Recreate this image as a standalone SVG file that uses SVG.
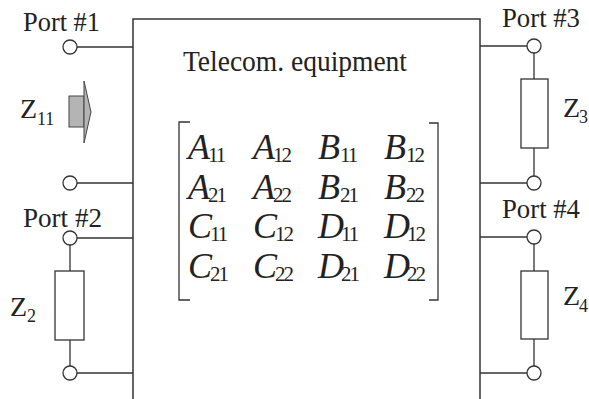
<svg xmlns="http://www.w3.org/2000/svg" width="589" height="399" viewBox="0 0 589 399">
<defs>
<style>
.ln{stroke:#333;stroke-width:1.3;fill:none}
.pt{fill:#fff;stroke:#333;stroke-width:1.3}
.rs{fill:#fff;stroke:#333;stroke-width:1.3}
.t{font-family:"Liberation Serif","Times New Roman",serif;fill:#222}
.lbl{font-size:28px}
.m{font-family:"Liberation Serif","Times New Roman",serif;font-style:italic;font-size:36px;fill:#222}
.s{font-family:"Liberation Serif","Times New Roman",serif;font-size:21px;fill:#222;letter-spacing:-2px}
.zs{font-size:18px}
</style>
</defs>
<rect width="589" height="399" fill="#fff"/>
<g id="equipment">
<path class="ln" d="M133,399 V19 H480 V399" style="stroke-width:1.5"/>
<text class="t" x="183" y="71" font-size="29" textLength="224" lengthAdjust="spacingAndGlyphs">Telecom. equipment</text>
</g>
<g id="matrix">
<path class="ln" d="M190,122 H179 V300 H190"/>
<path class="ln" d="M429,123 H438 V300 H429"/>
<text class="m" x="188" y="159">A</text><text class="s" x="208" y="162">11</text>
<text class="m" x="253" y="159">A</text><text class="s" x="273" y="162">12</text>
<text class="m" x="318" y="159">B</text><text class="s" x="340" y="162">11</text>
<text class="m" x="384" y="159">B</text><text class="s" x="406" y="162">12</text>
<text class="m" x="188" y="199">A</text><text class="s" x="208" y="202">21</text>
<text class="m" x="253" y="199">A</text><text class="s" x="273" y="202">22</text>
<text class="m" x="318" y="199">B</text><text class="s" x="340" y="202">21</text>
<text class="m" x="384" y="199">B</text><text class="s" x="406" y="202">22</text>
<text class="m" x="188" y="238">C</text><text class="s" x="210" y="241">11</text>
<text class="m" x="253" y="238">C</text><text class="s" x="275" y="241">12</text>
<text class="m" x="318" y="238">D</text><text class="s" x="341" y="241">11</text>
<text class="m" x="384" y="238">D</text><text class="s" x="407" y="241">12</text>
<text class="m" x="188" y="278">C</text><text class="s" x="210" y="281">21</text>
<text class="m" x="253" y="278">C</text><text class="s" x="275" y="281">22</text>
<text class="m" x="318" y="278">D</text><text class="s" x="341" y="281">21</text>
<text class="m" x="384" y="278">D</text><text class="s" x="407" y="281">22</text>
</g>
<g id="connectors">
<line class="ln" x1="77" y1="47" x2="133" y2="47"/>
<line class="ln" x1="77" y1="183" x2="133" y2="183"/>
<line class="ln" x1="77" y1="238" x2="133" y2="238"/>
<line class="ln" x1="77" y1="373" x2="133" y2="373"/>
<line class="ln" x1="70" y1="245" x2="70" y2="271"/>
<line class="ln" x1="70" y1="340" x2="70" y2="366"/>
<line class="ln" x1="480" y1="46" x2="527" y2="46"/>
<line class="ln" x1="480" y1="183" x2="527" y2="183"/>
<line class="ln" x1="534" y1="53" x2="534" y2="79"/>
<line class="ln" x1="534" y1="148" x2="534" y2="176"/>
<line class="ln" x1="480" y1="237" x2="527" y2="237"/>
<line class="ln" x1="480" y1="373" x2="527" y2="373"/>
<line class="ln" x1="534" y1="244" x2="534" y2="271"/>
<line class="ln" x1="534" y1="339" x2="534" y2="366"/>
</g>
<g id="port1">
<text class="t lbl" x="23" y="31" textLength="77" lengthAdjust="spacingAndGlyphs">Port #1</text>
<circle class="pt" cx="70" cy="47" r="7"/>
<circle class="pt" cx="70" cy="183" r="7"/>
<text class="t" x="20" y="118" font-size="28">Z</text><text class="t zs" x="37" y="125">11</text>
<rect x="69" y="96" width="15" height="31" fill="#b4b4b4" stroke="#444" stroke-width="1"/>
<polygon points="84,81 91,112 84,143" fill="#b4b4b4" stroke="#444" stroke-width="1"/>
</g>
<g id="port2">
<text class="t lbl" x="23" y="227" textLength="79" lengthAdjust="spacingAndGlyphs">Port #2</text>
<circle class="pt" cx="70" cy="238" r="7"/>
<circle class="pt" cx="70" cy="373" r="7"/>
<rect class="rs" x="55" y="271" width="29" height="69"/>
<text class="t" x="10" y="316" font-size="28">Z</text><text class="t zs" x="27" y="322">2</text>
</g>
<g id="port3">
<text class="t lbl" x="502" y="27" textLength="78" lengthAdjust="spacingAndGlyphs">Port #3</text>
<circle class="pt" cx="534" cy="46" r="7"/>
<circle class="pt" cx="534" cy="183" r="7"/>
<rect class="rs" x="521" y="79" width="27" height="69"/>
<text class="t" x="563" y="117" font-size="28">Z</text><text class="t zs" x="579" y="123">3</text>
</g>
<g id="port4">
<text class="t lbl" x="502" y="218" textLength="78" lengthAdjust="spacingAndGlyphs">Port #4</text>
<circle class="pt" cx="534" cy="237" r="7"/>
<circle class="pt" cx="534" cy="373" r="7"/>
<rect class="rs" x="521" y="271" width="27" height="68"/>
<text class="t" x="563" y="305" font-size="28">Z</text><text class="t zs" x="579" y="312">4</text>
</g>
</svg>
